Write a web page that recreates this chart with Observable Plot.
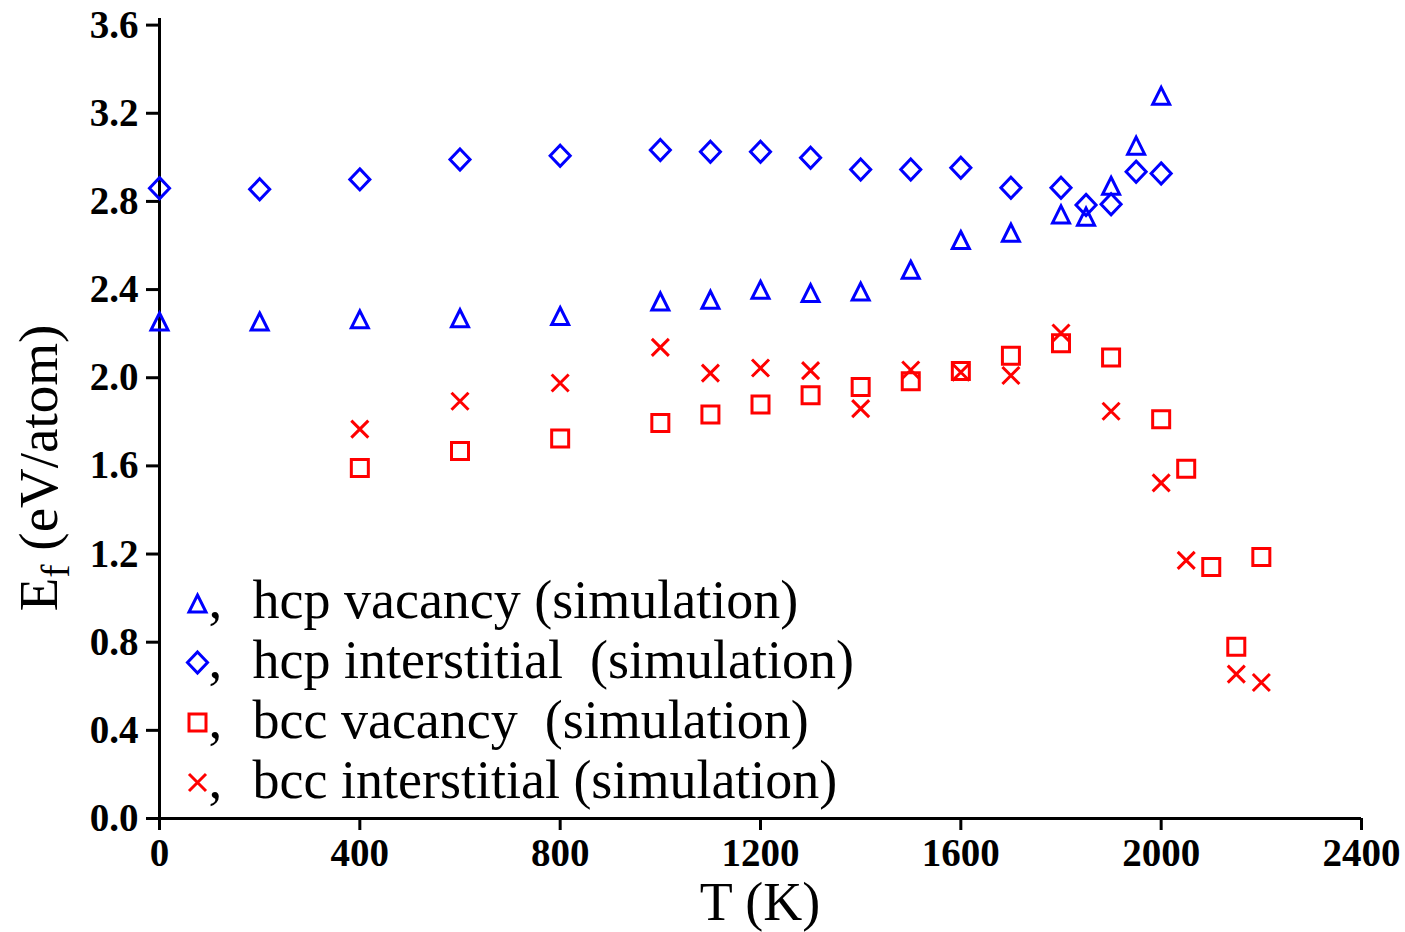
<!DOCTYPE html>
<html>
<head>
<meta charset="utf-8">
<script src="https://cdn.jsdelivr.net/npm/d3@7"></script>
<script src="https://cdn.jsdelivr.net/npm/@observablehq/plot@0.6"></script>
<style>
  html, body { margin: 0; padding: 0; background: #fff; overflow: hidden; }
  #chart svg { display: block; }
  #chart g[aria-label^="x-axis"] path, #chart g[aria-label^="x-axis"] line,
  #chart g[aria-label^="y-axis"] path, #chart g[aria-label^="y-axis"] line { stroke-width: 3px; }
</style>
</head>
<body>
<div id="chart"></div>
<script>
// ---- data ----
const xTicks = [0, 400, 800, 1200, 1600, 2000, 2400];
const yTicks = [0, 0.4, 0.8, 1.2, 1.6, 2.0, 2.4, 2.8, 3.2, 3.6];

const seriesNames = [
  "hcp vacancy (simulation)",
  "hcp interstitial  (simulation)",
  "bcc vacancy  (simulation)",
  "bcc interstitial (simulation)"
];

const hcpVacT = [0, 200, 400, 600, 800, 1000, 1100, 1200, 1300, 1400, 1500, 1600, 1700, 1800, 1850, 1900, 1950, 2000];
const hcpVacE = [2.255, 2.255, 2.265, 2.27, 2.28, 2.346, 2.354, 2.399, 2.384, 2.391, 2.49, 2.625, 2.658, 2.741, 2.731, 2.871, 3.053, 3.279];

const hcpIntT = [0, 200, 400, 600, 800, 1000, 1100, 1200, 1300, 1400, 1500, 1600, 1700, 1800, 1850, 1900, 1950, 2000];
const hcpIntE = [2.86, 2.855, 2.90, 2.99, 3.007, 3.033, 3.025, 3.025, 2.998, 2.945, 2.945, 2.953, 2.862, 2.862, 2.784, 2.787, 2.935, 2.927];

const bccVacT = [400, 600, 800, 1000, 1100, 1200, 1300, 1400, 1500, 1600, 1700, 1800, 1900, 2000, 2050, 2100, 2150, 2200];
const bccVacE = [1.59, 1.667, 1.724, 1.795, 1.833, 1.878, 1.92, 1.958, 1.984, 2.03, 2.10, 2.157, 2.092, 1.812, 1.587, 1.141, 0.779, 1.187];

const bccIntT = [400, 600, 800, 1000, 1100, 1200, 1300, 1400, 1500, 1600, 1700, 1800, 1900, 2000, 2050, 2150, 2200];
const bccIntE = [1.767, 1.893, 1.976, 2.138, 2.021, 2.044, 2.032, 1.86, 2.035, 2.025, 2.01, 2.203, 1.848, 1.523, 1.171, 0.655, 0.617];

// ---- styling ----
const BLUE = "#0000ff", RED = "#ff0000";
const rOf = s => Math.sqrt(s / Math.PI);
const symTriangle = { draw(c, s) { const r = rOf(s); c.moveTo(0, -r); c.lineTo(r, r); c.lineTo(-r, r); c.closePath(); } };
const symDiamond = { draw(c, s) { const r = rOf(s); c.moveTo(0, -1.24 * r); c.lineTo(1.18 * r, 0); c.lineTo(0, 1.24 * r); c.lineTo(-1.18 * r, 0); c.closePath(); } };
const symSquare = { draw(c, s) { const r = rOf(s); c.rect(-r, -r, 2 * r, 2 * r); } };
const symTimes = { draw(c, s) { const r = rOf(s); c.moveTo(-r, -r); c.lineTo(r, r); c.moveTo(r, -r); c.lineTo(-r, r); } };

const series = [
  { T: hcpVacT, E: hcpVacE, symbol: symTriangle, color: BLUE },
  { T: hcpIntT, E: hcpIntE, symbol: symDiamond, color: BLUE },
  { T: bccVacT, E: bccVacE, symbol: symSquare, color: RED },
  { T: bccIntT, E: bccIntE, symbol: symTimes, color: RED }
];

const R = 8.5;
const legendMarkerDy = [-215, -156, -96, -36];
const legendBaseDy = [-201, -141, -81, -21];
const FONT = "'Liberation Serif', 'Times New Roman', serif";

const marks = [
  Plot.ruleY([0], { stroke: "black", strokeWidth: 3 }),
  Plot.ruleX([0], { stroke: "black", strokeWidth: 3 })
];

series.forEach(s => {
  const data = s.T.map((t, i) => ({ T: t, E: s.E[i] }));
  marks.push(Plot.dot(data, { x: "T", y: "E", symbol: s.symbol, r: R, stroke: s.color, fill: "none", strokeWidth: 3 }));
});

series.forEach((s, i) => {
  marks.push(Plot.dot([seriesNames[i]], { frameAnchor: "bottom-left", symbol: s.symbol, r: R, stroke: s.color, fill: "none", strokeWidth: 3, dx: 38, dy: legendMarkerDy[i] }));
  marks.push(Plot.text([","], { text: d => d, frameAnchor: "bottom-left", textAnchor: "start", lineAnchor: "bottom", dx: 49, dy: legendBaseDy[i], fontSize: 55, fontWeight: "normal", fontFamily: FONT, fill: "black" }));
  marks.push(Plot.text([seriesNames[i]], { text: d => d, frameAnchor: "bottom-left", textAnchor: "start", lineAnchor: "bottom", dx: 93, dy: legendBaseDy[i], fontSize: 54, fontWeight: "normal", fontFamily: FONT, fill: "black" }));
});

const chart = Plot.plot({
  width: 1405,
  height: 932,
  marginLeft: 159,
  marginRight: 44,
  marginTop: 18,
  marginBottom: 114,
  style: { background: "white", fontFamily: FONT, fontSize: "39px", fontWeight: "bold", color: "black", overflow: "visible" },
  x: { domain: [0, 2400], ticks: xTicks, tickFormat: "d", tickSize: 12, tickPadding: 8, label: null },
  y: { domain: [0, 3.63], ticks: yTicks, tickFormat: d => d.toFixed(1), tickSize: 13, tickPadding: 8, label: null },
  marks
});

document.getElementById("chart").appendChild(chart);

// axis titles (with subscript)
const svg = d3.select(chart);
const ylab = svg.append("text")
  .attr("transform", "translate(57,468) rotate(-90)")
  .attr("text-anchor", "middle")
  .style("font-family", FONT).style("font-size", "55px").style("font-weight", "normal")
  .attr("fill", "black");
ylab.append("tspan").text("E");
ylab.append("tspan").attr("dy", 12).style("font-size", "40px").text("f");
ylab.append("tspan").attr("dy", -12).text(" (eV/atom)");

svg.append("text")
  .attr("x", 760).attr("y", 920)
  .attr("text-anchor", "middle")
  .style("font-family", FONT).style("font-size", "54px").style("font-weight", "normal")
  .attr("fill", "black")
  .text("T (K)");
</script>
</body>
</html>
